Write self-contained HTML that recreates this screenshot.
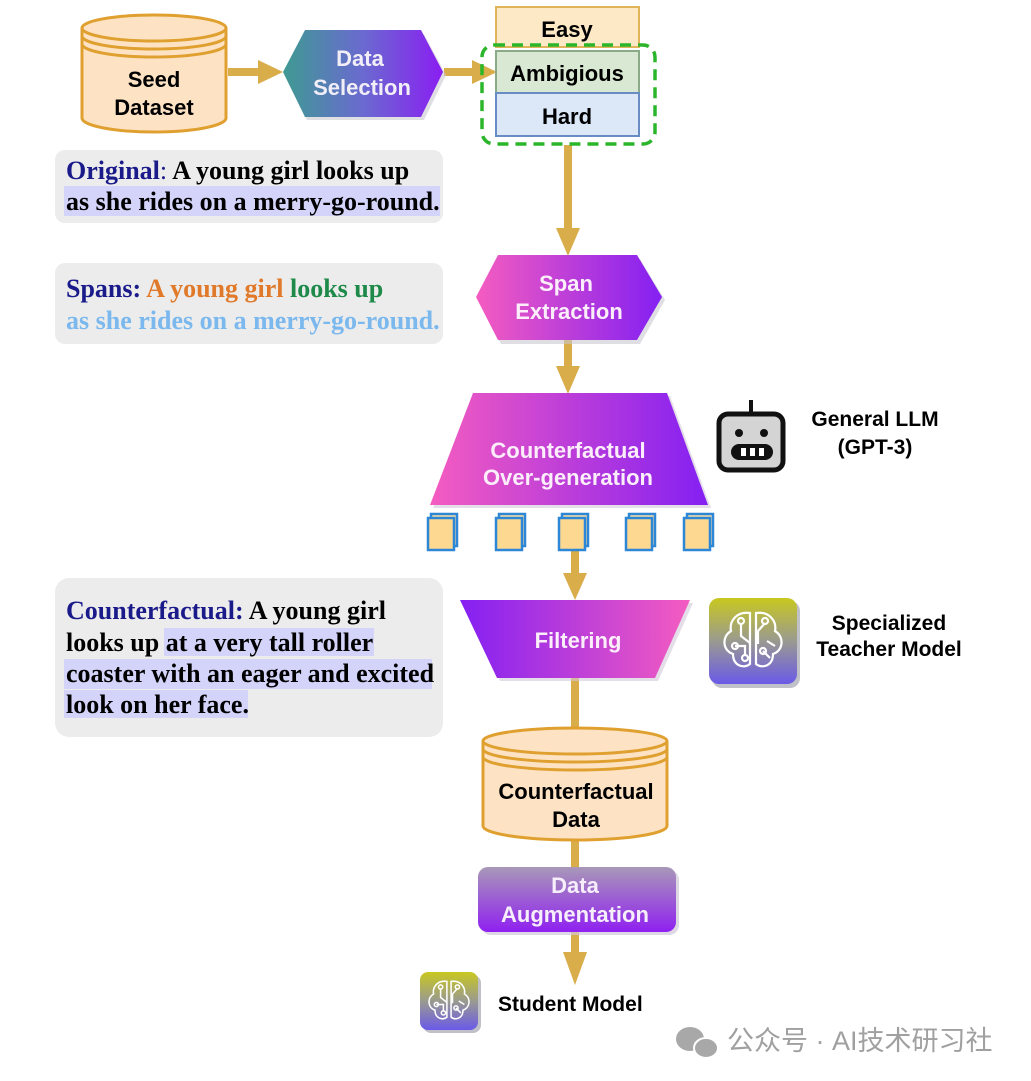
<!DOCTYPE html>
<html><head><meta charset="utf-8"><style>
html,body{margin:0;padding:0;background:#fff;}
svg{display:block;}
.s{font-family:"Liberation Sans",sans-serif;font-weight:bold;}
.r{font-family:"Liberation Serif",serif;font-weight:bold;font-size:26px;}
</style></head><body>
<svg width="1031" height="1081" viewBox="0 0 1031 1081" xmlns="http://www.w3.org/2000/svg">
<defs>
<linearGradient id="gTeal" x1="0" x2="1"><stop offset="0" stop-color="#3f9a92"/><stop offset="0.5" stop-color="#6a6ad0"/><stop offset="1" stop-color="#8a1ef2"/></linearGradient>
<linearGradient id="gPink" x1="0" x2="1"><stop offset="0" stop-color="#f45cc0"/><stop offset="1" stop-color="#8420f2"/></linearGradient>
<linearGradient id="gPinkR" x1="0" x2="1"><stop offset="0" stop-color="#8420f2"/><stop offset="1" stop-color="#f45cc0"/></linearGradient>
<linearGradient id="gAug" x1="0" y1="0" x2="0" y2="1"><stop offset="0" stop-color="#a898b8"/><stop offset="1" stop-color="#9020f0"/></linearGradient>
<linearGradient id="gIcon" x1="0" y1="0" x2="0" y2="1"><stop offset="0" stop-color="#c8c820"/><stop offset="0.5" stop-color="#9a9a90"/><stop offset="1" stop-color="#6a5ae8"/></linearGradient>
<g id="doc"><rect x="3" y="-2" width="26" height="32" fill="#fde0a0" stroke="#2e86d6" stroke-width="2.5"/><rect x="0" y="2" width="26" height="32" fill="#fcd890" stroke="#2e86d6" stroke-width="2.5"/></g>
<g id="brain" fill="none" stroke="#fff" stroke-width="2.2">
<path d="M-3,-28 C-16,-30 -24,-20 -22,-10 C-32,-4 -30,10 -20,13 C-20,25 -9,28 -3,23 Z"/>
<path d="M3,-28 C16,-30 24,-20 22,-10 C32,-4 30,10 20,13 C20,25 9,28 3,23 Z"/>
<path d="M-12,-18 L-12,-5 L-3,2 M-18,5 L-8,5 L-8,15 M12,-18 L5,-10 L5,3 M14,0 L22,5 M10,10 L17,17"/>
<circle cx="-12" cy="-20" r="3"/><circle cx="-18" cy="5" r="3"/><circle cx="12" cy="-20" r="3"/><circle cx="10" cy="10" r="3"/><circle cx="-8" cy="17" r="3"/>
</g>
</defs>

<!-- Seed dataset cylinder -->
<g stroke="#e0a030" stroke-width="3" fill="#fde3c4">
<path d="M82,28 L82,118 A72,14 0 0 0 226,118 L226,28"/>
<ellipse cx="154" cy="28" rx="72" ry="13"/>
<path d="M82,36 A72,13 0 0 0 226,36 M82,44 A72,13 0 0 0 226,44" fill="none"/>
</g>
<text class="s" x="154" y="87" font-size="22" text-anchor="middle">Seed</text>
<text class="s" x="154" y="115" font-size="22" text-anchor="middle">Dataset</text>

<!-- arrows -->
<g fill="#d9ad4a" stroke="none">
<rect x="228" y="68" width="34" height="8"/><polygon points="258,60 283,72 258,84"/>
<rect x="444" y="68" width="32" height="8"/><polygon points="472,60 497,72 472,84"/>
<rect x="564" y="145" width="8" height="90"/><polygon points="556,228 568,256 580,228"/>
<rect x="564" y="340" width="8" height="30"/><polygon points="556,366 568,394 580,366"/>
<rect x="571" y="550" width="8" height="26"/><polygon points="563,573 575,600 587,573"/>
<rect x="571" y="678" width="8" height="50"/>
<rect x="571" y="840" width="8" height="28"/>
<rect x="571" y="932" width="8" height="28"/><polygon points="563,952 575,985 587,952"/>
</g>

<!-- Data selection hexagon -->
<polygon points="286,75 307,34 424,34 446,75 424,120 307,120" fill="#c8c8d0" opacity="0.6"/>
<polygon points="283,72 305,30 421,30 443,72 421,117 305,117" fill="url(#gTeal)"/>
<text class="s" x="360" y="66" font-size="22" fill="#f2eef8" text-anchor="middle">Data</text>
<text class="s" x="362" y="95" font-size="22" fill="#f2eef8" text-anchor="middle">Selection</text>

<!-- Easy / Ambigious / Hard -->
<rect x="496" y="7" width="143" height="40" fill="#fde9c6" stroke="#e0b458" stroke-width="2"/>
<rect x="496" y="51" width="143" height="42" fill="#d8e8d2" stroke="#8aaa88" stroke-width="2"/>
<rect x="496" y="93" width="143" height="43" fill="#dce8f8" stroke="#6a8cc4" stroke-width="2"/>
<text class="s" x="567" y="37" font-size="22" text-anchor="middle">Easy</text>
<text class="s" x="567" y="81" font-size="22" text-anchor="middle">Ambigious</text>
<text class="s" x="567" y="124" font-size="22" text-anchor="middle">Hard</text>
<rect x="482" y="45" width="173" height="99" rx="12" fill="none" stroke="#2ab52a" stroke-width="3.5" stroke-dasharray="11,7"/>

<!-- Span extraction -->
<polygon points="479,300 501,259 640,259 665,300 640,344 501,344" fill="#c8c8d0" opacity="0.6"/>
<polygon points="476,297 498,255 637,255 662,297 637,340 498,340" fill="url(#gPink)"/>
<text class="s" x="566" y="291" font-size="22" fill="#fbeefa" text-anchor="middle">Span</text>
<text class="s" x="569" y="319" font-size="22" fill="#fbeefa" text-anchor="middle">Extraction</text>

<!-- Over-generation trapezoid -->
<polygon points="433,508 476,396 670,396 711,508" fill="#d0c8d8" opacity="0.6"/>
<polygon points="430,505 473,393 667,393 708,505" fill="url(#gPink)"/>
<text class="s" x="568" y="458" font-size="22" fill="#fbeefa" text-anchor="middle">Counterfactual</text>
<text class="s" x="568" y="485" font-size="22" fill="#fbeefa" text-anchor="middle">Over-generation</text>

<!-- docs -->
<use href="#doc" x="428" y="516"/><use href="#doc" x="496" y="516"/><use href="#doc" x="559" y="516"/><use href="#doc" x="626" y="516"/><use href="#doc" x="684" y="516"/>

<!-- robot -->
<line x1="751" y1="400" x2="751" y2="414" stroke="#111" stroke-width="4"/>
<rect x="719" y="414" width="64" height="56" rx="9" fill="#d4d4d4" stroke="#111" stroke-width="5"/>
<circle cx="739" cy="433" r="4" fill="#111"/><circle cx="764" cy="433" r="4" fill="#111"/>
<rect x="731" y="444" width="42" height="16" rx="8" fill="#111"/>
<rect x="741" y="448" width="5" height="8" fill="#fff"/><rect x="750" y="448" width="5" height="8" fill="#fff"/><rect x="759" y="448" width="5" height="8" fill="#fff"/>
<text class="s" x="875" y="426" font-size="21" text-anchor="middle">General LLM</text>
<text class="s" x="875" y="454" font-size="21" text-anchor="middle">(GPT-3)</text>

<!-- Filtering -->
<polygon points="463,603 693,603 658,681 500,681" fill="#d0c8d8" opacity="0.6"/>
<polygon points="460,600 690,600 655,678 497,678" fill="url(#gPinkR)"/>
<text class="s" x="578" y="648" font-size="22" fill="#fbeefa" text-anchor="middle">Filtering</text>

<!-- teacher icon -->
<rect x="712" y="601" width="88" height="87" rx="10" fill="#c0c0c8"/>
<rect x="709" y="598" width="88" height="86" rx="10" fill="url(#gIcon)"/>
<use href="#brain" x="753" y="641"/>
<text class="s" x="889" y="630" font-size="21" text-anchor="middle">Specialized</text>
<text class="s" x="889" y="656" font-size="21" text-anchor="middle">Teacher Model</text>

<!-- Counterfactual data cylinder -->
<g stroke="#e0a030" stroke-width="3" fill="#fde3c4">
<path d="M483,741 L483,826 A92,14 0 0 0 667,826 L667,741"/>
<ellipse cx="575" cy="741" rx="92" ry="13"/>
<path d="M483,749 A92,13 0 0 0 667,749 M483,757 A92,13 0 0 0 667,757" fill="none"/>
</g>
<text class="s" x="576" y="799" font-size="22" text-anchor="middle">Counterfactual</text>
<text class="s" x="576" y="827" font-size="22" text-anchor="middle">Data</text>

<!-- Data augmentation -->
<rect x="481" y="870" width="198" height="65" rx="10" fill="#d0c8d8" opacity="0.7"/>
<rect x="478" y="867" width="198" height="65" rx="10" fill="url(#gAug)"/>
<text class="s" x="575" y="893" font-size="22" fill="#f6eefa" text-anchor="middle">Data</text>
<text class="s" x="575" y="922" font-size="22" fill="#f6eefa" text-anchor="middle">Augmentation</text>

<!-- student -->
<rect x="423" y="975" width="58" height="58" rx="8" fill="#c0c0c8"/>
<rect x="420" y="972" width="58" height="58" rx="8" fill="url(#gIcon)"/>
<use href="#brain" transform="translate(449,1001) scale(0.7)"/>
<text class="s" x="498" y="1011" font-size="21">Student Model</text>

<!-- watermark -->
<g fill="#a8a8a8"><ellipse cx="690" cy="1039" rx="14" ry="12"/><ellipse cx="706" cy="1048" rx="12" ry="10" stroke="#fff" stroke-width="2"/></g>
<text x="727" y="1050" font-size="27" fill="#a0a0a0" font-family="'Liberation Sans','Noto Sans CJK SC',sans-serif">公众号 · AI技术研习社</text>

<!-- Text boxes -->
<rect x="55" y="150" width="388" height="73" rx="10" fill="#ececec"/>
<rect x="64" y="186" width="376" height="30" fill="#d4d4fa"/>
<text class="r" x="66" y="179"><tspan fill="#1a1a8a">Original</tspan><tspan fill="#1a1a8a" font-weight="normal">:</tspan> A young girl looks up</text>
<text class="r" x="66" y="210">as she rides on a merry-go-round.</text>

<rect x="55" y="263" width="388" height="81" rx="10" fill="#ececec"/>
<text class="r" x="66" y="297"><tspan fill="#1a1a8a">Spans:</tspan> <tspan fill="#e07a2a">A young girl</tspan> <tspan fill="#1e8a4a">looks up</tspan></text>
<text class="r" x="66" y="329" fill="#7ab8ee">as she rides on a merry-go-round.</text>

<rect x="55" y="578" width="388" height="159" rx="14" fill="#ececec"/>
<rect x="164" y="628" width="210" height="28" fill="#d4d4fa"/>
<rect x="64" y="659" width="368" height="30" fill="#d4d4fa"/>
<rect x="64" y="690" width="184" height="28" fill="#d4d4fa"/>
<text class="r" x="66" y="619"><tspan fill="#1a1a8a">Counterfactual:</tspan> A young girl</text>
<text class="r" x="66" y="651">looks up at a very tall roller</text>
<text class="r" x="66" y="682">coaster with an eager and excited</text>
<text class="r" x="66" y="713">look on her face.</text>
</svg>
</body></html>
